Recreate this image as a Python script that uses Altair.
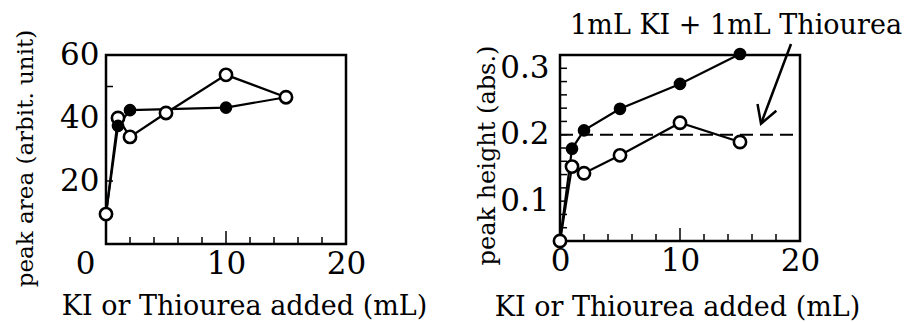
import altair as alt
import pandas as pd

# ---------------- data ----------------
x_added = [0, 1, 2, 5, 10, 15]
area_open = [9.5, 40.0, 34.0, 41.6, 53.7, 46.6]
x_area_filled = [0, 1, 2, 10, 15]
area_filled = [9.5, 37.5, 42.5, 43.3, 46.6]

height_open = [0.040, 0.152, 0.142, 0.169, 0.218, 0.189]
height_filled = [0.040, 0.179, 0.2065, 0.239, 0.2765, 0.3215]

ref_level = [0.2]
x_label_values = [0, 10, 20]
x_minor_ticks = [2, 4, 6, 8, 12, 14, 16, 18]
x_major_ticks = [10]
area_label_values = [20, 40, 60]
area_inner_ticks = [20, 50]
height_label_values = [0.1, 0.2, 0.3]
height_inner_ticks = [0.06, 0.08, 0.10, 0.12, 0.14, 0.16, 0.18, 0.20,
                      0.22, 0.24, 0.26, 0.28, 0.30]

note_text = ["1mL KI + 1mL Thiourea"]
note_x, note_y = [14.67], [0.3635]
arrow_tail_x, arrow_tail_y = [19.25], [0.3365]
arrow_tip_x, arrow_tip_y = [16.75], [0.2166]

x_title = "KI or Thiourea added (mL)"
left_y_title = "peak area (arbit. unit)"
right_y_title = "peak height (abs.)"

# ---------------- style ----------------
FONT = "DejaVu Serif"
W = 240
HL = 189
HR = 186
TICK = 7
MAJOR = 13

xscale = alt.Scale(domain=[0, 20], nice=False, zero=False)


def x_axis(title_x, title_y, zero_offset):
    return alt.Axis(
        values=x_label_values, title=x_title, domain=False, ticks=False, grid=False,
        labelFont=FONT, labelFontSize=31, labelColor="black", labelPadding=5,
        labelFlush=False,
        labelOffset={"condition": {"test": "datum.value === 0", "value": zero_offset}, "value": 0},
        titleFont=FONT, titleFontSize=27, titleFontWeight="normal", titleColor="black",
        titleX=title_x, titleY=title_y, titleBaseline="alphabetic", titleAlign="center",
    )


def y_axis(values, title, title_x, title_y, fmt, pad, tsize):
    return alt.Axis(
        values=values, title=title, domain=False, ticks=False, grid=False, format=fmt,
        labelFont=FONT, labelFontSize=31, labelColor="black", labelPadding=pad,
        labelFlush=False,
        titleFont=FONT, titleFontSize=tsize, titleFontWeight="normal", titleColor="black",
        titleX=title_x, titleY=title_y, titleAngle=-90, titleAlign="center",
        titleBaseline="middle",
    )


def panel(x_f, y_open, x_filled, y_filled, yscale, xax, yax, H, inner_y, filled_filter):
    d_open = pd.DataFrame({"x": x_f, "y": y_open})
    d_filled = pd.DataFrame({"x": x_filled, "y": y_filled})
    X = alt.X("x:Q", scale=xscale, axis=xax)
    Y = alt.Y("y:Q", scale=yscale, axis=yax)
    line_open = alt.Chart(d_open).mark_line(color="black", strokeWidth=2.2).encode(x=X, y=Y)
    line_filled = alt.Chart(d_filled).mark_line(color="black", strokeWidth=2.2).encode(x=X, y=Y)
    pts_open = alt.Chart(d_open).mark_point(
        shape="circle", filled=True, fill="white", stroke="black", strokeWidth=2.6,
        size=150, opacity=1).encode(x=X, y=Y)
    pts_filled = alt.Chart(d_filled).transform_filter(filled_filter).mark_point(
        shape="circle", filled=True, color="black", size=160, opacity=1).encode(x=X, y=Y)
    minor = alt.Chart(pd.DataFrame({"x": x_minor_ticks})).mark_rule(
        color="black", strokeWidth=1.5).encode(x=X, y=alt.value(H), y2=alt.value(H - TICK))
    major = alt.Chart(pd.DataFrame({"x": x_major_ticks})).mark_rule(
        color="black", strokeWidth=1.5).encode(x=X, y=alt.value(H), y2=alt.value(H - MAJOR))
    yt = alt.Chart(pd.DataFrame({"y": inner_y})).mark_rule(
        color="black", strokeWidth=1.5).encode(y=Y, x=alt.value(0), x2=alt.value(TICK))
    return [minor, major, yt, line_open, line_filled, pts_open, pts_filled]


# left panel
yscale_L = alt.Scale(domain=[0, 60], nice=False, zero=False)
left_layers = panel(
    x_added, area_open, x_area_filled, area_filled, yscale_L,
    x_axis(138, 70, -21),
    y_axis(area_label_values, left_y_title, -81, 103, "d", 7, 23),
    HL, area_inner_ticks, "datum.x > 0 && datum.x < 15")
left = alt.layer(*left_layers).properties(width=W, height=HL)

# right panel
yscale_R = alt.Scale(domain=[0.04, 0.32], nice=False, zero=False)
right_layers = panel(
    x_added, height_open, x_added, height_filled, yscale_R,
    x_axis(117, 74, 0),
    y_axis(height_label_values, right_y_title, -73, 100, ".1f", 11, 24),
    HR, height_inner_ticks, "datum.x > 0")

XR = alt.X("x:Q", scale=xscale)
YR = alt.Y("y:Q", scale=yscale_R)
dash = alt.Chart(pd.DataFrame({"x": [0], "x2": [20], "y": ref_level})).mark_rule(
    color="black", strokeWidth=2, strokeDash=[13, 7]).encode(x=XR, x2="x2:Q", y=YR)
arrow_line = alt.Chart(pd.DataFrame({
    "x": arrow_tail_x, "y": arrow_tail_y, "x2": arrow_tip_x, "y2": arrow_tip_y})).mark_rule(
    color="black", strokeWidth=2.5).encode(x=XR, y=YR, x2="x2:Q", y2="y2:Q")
arrow_head = alt.Chart(pd.DataFrame({"x": arrow_tip_x, "y": arrow_tip_y})).mark_point(
    shape="M-0.5,-0.866L0,0L0.5,-0.866", filled=False, stroke="black", strokeWidth=2.5,
    size=1600, angle=20, opacity=1).encode(x=XR, y=YR)
note = alt.Chart(pd.DataFrame({"x": note_x, "y": note_y, "t": note_text})).mark_text(
    font=FONT, fontSize=27, color="black", align="center", baseline="middle").encode(
    x=XR, y=YR, text="t:N")

right = alt.layer(*right_layers, dash, arrow_line, arrow_head, note).properties(width=W, height=HR)

chart = alt.hconcat(left, right, spacing=214, bounds="flush").properties(
    padding={"left": 12, "top": 10, "right": 5, "bottom": 0},
    background="white",
).configure_view(stroke="black", strokeWidth=2.5)

chart.save("out.html", embed_options={"renderer": "svg", "actions": False})
